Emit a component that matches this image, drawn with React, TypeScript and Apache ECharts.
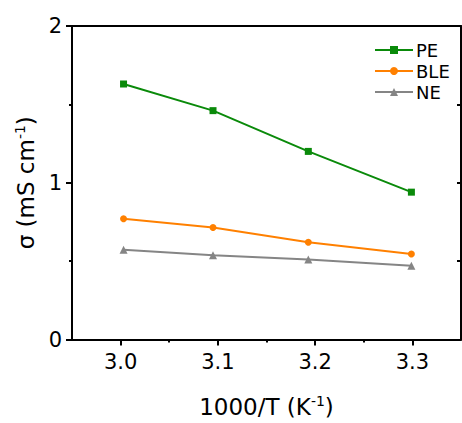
import React, { useEffect, useRef } from "react";
import * as echarts from "echarts";

const xValues = [3.003, 3.095, 3.193, 3.299];
const peValues = [1.63, 1.46, 1.2, 0.94];
const bleValues = [0.77, 0.715, 0.62, 0.545];
const neValues = [0.573, 0.537, 0.51, 0.47];
const xMajorTicks = [3.0, 3.1, 3.2, 3.3];
const xMinorTicks = [3.05, 3.15, 3.25];

const FONT = "DejaVu Sans, sans-serif";

export default function App() {
  const ref = useRef<HTMLDivElement>(null);
  useEffect(() => {
    if (!ref.current) return;
    const chart = echarts.init(ref.current, undefined, { renderer: "svg" });
    const mk = (vals: number[]) => xValues.map((x, i) => [x, vals[i]]);
    const sup = { fontSize: 14, verticalAlign: "top", padding: [0, 0, 12, 0], color: "#000", fontFamily: FONT };
    chart.setOption({
      animation: false,
      textStyle: { fontFamily: FONT },
      grid: { left: 72, right: 1, top: 26, bottom: 83 },
      legend: {
        orient: "vertical",
        left: 369,
        top: 36,
        itemWidth: 38,
        itemHeight: 10,
        itemGap: 3,
        textStyle: { fontSize: 18, color: "#000", fontFamily: FONT, padding: [0, 0, 0, -2] },
        data: ["PE", "BLE", "NE"],
      },
      xAxis: [
        {
          type: "value",
          min: 2.95,
          max: 3.35,
          position: "bottom",
          axisLine: { show: true, lineStyle: { color: "#000", width: 2 } },
          axisTick: { show: true, customValues: xMajorTicks, length: 6, lineStyle: { color: "#000", width: 2 } },
          axisLabel: {
            customValues: xMajorTicks,
            formatter: (v: number) => v.toFixed(1),
            fontSize: 21,
            color: "#000",
            margin: 12,
            fontFamily: FONT,
          },
          splitLine: { show: false },
          name: "1000/T (K{sup|-1})",
          nameLocation: "middle",
          nameGap: 54,
          nameTextStyle: { fontSize: 23, color: "#000", fontFamily: FONT, rich: { sup } },
        },
        {
          type: "value",
          min: 2.95,
          max: 3.35,
          position: "bottom",
          axisLine: { show: false },
          axisTick: { show: true, customValues: xMinorTicks, length: 3, lineStyle: { color: "#000", width: 2 } },
          axisLabel: { show: false },
          splitLine: { show: false },
        },
        {
          type: "value",
          min: 2.95,
          max: 3.35,
          position: "top",
          axisLine: { show: true, lineStyle: { color: "#000", width: 2 } },
          axisTick: { show: false },
          axisLabel: { show: false },
          splitLine: { show: false },
        },
      ],
      yAxis: [
        {
          type: "value",
          min: 0,
          max: 2,
          interval: 1,
          position: "left",
          axisLine: { show: true, lineStyle: { color: "#000", width: 2 } },
          axisTick: { show: true, length: 6, lineStyle: { color: "#000", width: 2 } },
          minorTick: { show: true, splitNumber: 2, length: 3, lineStyle: { color: "#000", width: 2 } },
          axisLabel: { fontSize: 21, color: "#000", margin: 10, fontFamily: FONT },
          splitLine: { show: false },
          minorSplitLine: { show: false },
          name: "σ (mS cm{sup|-1})",
          nameLocation: "middle",
          nameGap: 32,
          nameTextStyle: { fontSize: 23, color: "#000", fontFamily: FONT, rich: { sup } },
        },
        {
          type: "value",
          min: 0,
          max: 2,
          interval: 0.5,
          position: "right",
          axisLine: { show: true, lineStyle: { color: "#000", width: 2 } },
          axisTick: { show: true, inside: true, length: 4, lineStyle: { color: "#000", width: 2 } },
          axisLabel: { show: false },
          splitLine: { show: false },
        },
      ],
      series: [
        {
          name: "PE",
          type: "line",
          data: mk(peValues),
          symbol: "rect",
          symbolSize: 7,
          itemStyle: { color: "#0A8A0A" },
          lineStyle: { color: "#0A8A0A", width: 2 },
        },
        {
          name: "BLE",
          type: "line",
          data: mk(bleValues),
          symbol: "circle",
          symbolSize: 7,
          itemStyle: { color: "#FF8000" },
          lineStyle: { color: "#FF8000", width: 2 },
        },
        {
          name: "NE",
          type: "line",
          data: mk(neValues),
          symbol: "triangle",
          symbolSize: 8,
          itemStyle: { color: "#858585" },
          lineStyle: { color: "#858585", width: 2 },
        },
      ],
    });
    return () => chart.dispose();
  }, []);
  return <div ref={ref} style={{ width: 462, height: 423, position: "absolute", left: 0, top: 0 }} />;
}
